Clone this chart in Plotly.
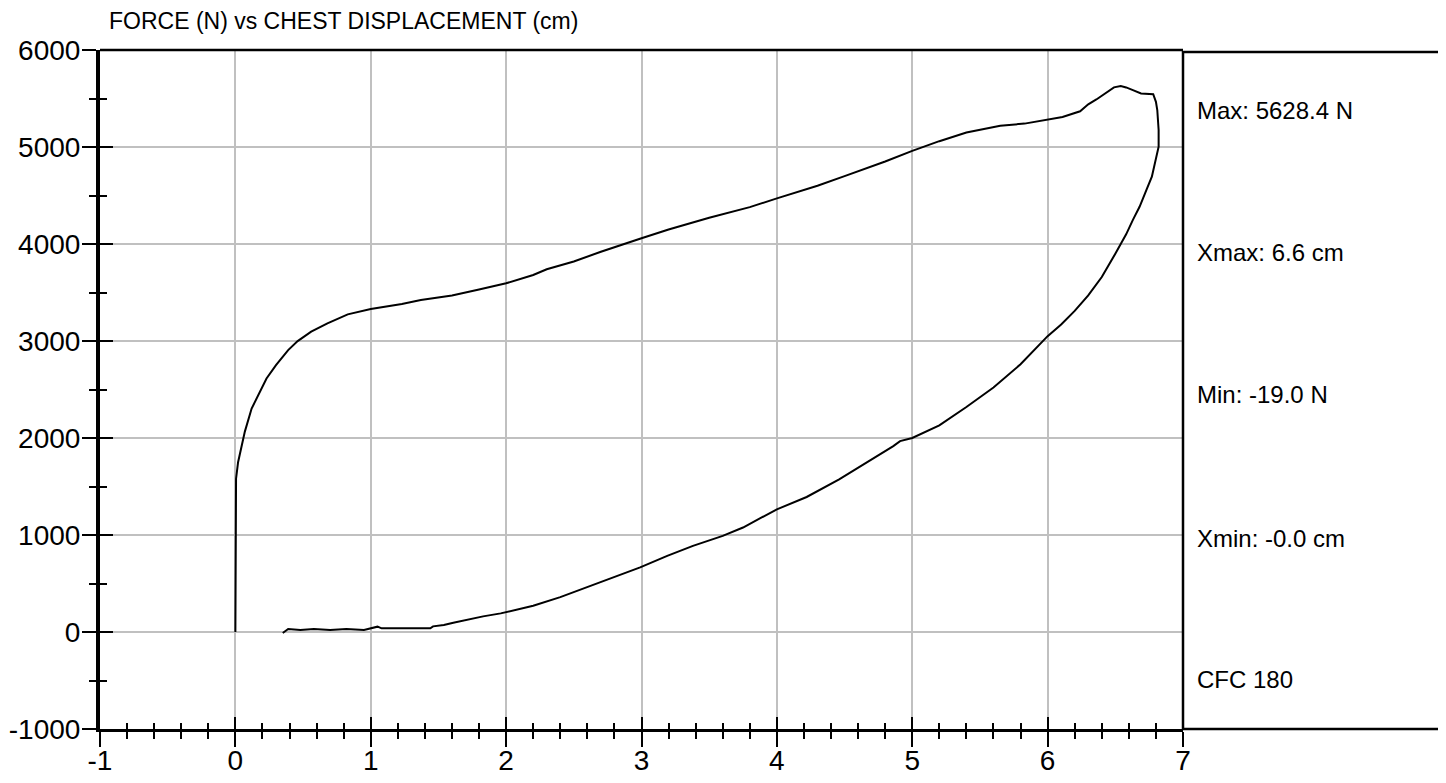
import plotly.graph_objects as go

# chest displacement (cm) and force (N)
x_cm = [0.00, 0.00, 0.00, 0.005, 0.02, 0.04, 0.07, 0.12, 0.18, 0.23, 0.30, 0.39, 0.46,
        0.56, 0.68, 0.83, 1.00, 1.23, 1.37, 1.60, 1.80, 2.00, 2.20, 2.30, 2.50, 2.70,
        3.00, 3.20, 3.50, 3.80, 4.00, 4.30, 4.50, 4.80, 5.00, 5.20, 5.40, 5.65, 5.83,
        5.99, 6.11, 6.24, 6.30, 6.36, 6.43, 6.49, 6.54, 6.58, 6.63, 6.69, 6.78, 6.80,
        6.81, 6.82, 6.82, 6.80, 6.77, 6.73, 6.68, 6.63, 6.58, 6.50, 6.40, 6.30, 6.20,
        6.10, 6.00, 5.80, 5.60, 5.40, 5.20, 5.00, 4.91, 4.86, 4.66, 4.46, 4.22, 4.00,
        3.75, 3.60, 3.38, 3.19, 2.99, 2.69, 2.40, 2.20, 1.96, 1.83, 1.73, 1.61, 1.54,
        1.46, 1.44, 1.08, 1.05, 0.95, 0.82, 0.70, 0.58, 0.48, 0.39, 0.35]
force_n = [0, 600, 1200, 1580, 1750, 1873, 2066, 2304, 2476, 2614, 2751, 2906, 2999,
           3096, 3182, 3275, 3330, 3382, 3423, 3468, 3530, 3595, 3680, 3740, 3820, 3920,
           4060, 4150, 4270, 4380, 4470, 4600, 4700, 4850, 4960, 5060, 5150, 5220, 5241,
           5282, 5310, 5368, 5440, 5490, 5558, 5615, 5628, 5614, 5586, 5552, 5545, 5466,
           5381, 5175, 5003, 4866, 4694, 4558, 4386, 4249, 4100, 3900, 3660, 3470, 3310,
           3170, 3050, 2760, 2520, 2320, 2130, 2000, 1968, 1917, 1746, 1574, 1392, 1265,
           1077, 991, 888, 785, 666, 511, 360, 270, 192, 161, 134, 96, 72,
           58, 38, 38, 55, 20, 31, 20, 31, 20, 31, -10]

x_tickvals = [-1, 0, 1, 2, 3, 4, 5, 6, 7]
x_ticktext = ['-1', '0', '1', '2', '3', '4', '5', '6', '7']
y_tickvals = [-1000, 0, 1000, 2000, 3000, 4000, 5000, 6000]
y_ticktext = ['-1000', '0', '1000', '2000', '3000', '4000', '5000', '6000']

stats = ['Max: 5628.4 N', 'Xmax: 6.6 cm', 'Min: -19.0 N', 'Xmin: -0.0 cm', 'CFC 180']
stats_ypx = [110, 252, 394, 538, 679]

# page body adds an 8px margin, so the figure is a little smaller than the window
W, H = 1438, 775
L, R, T, B = 92, 263, 42, 54
pw, ph = W - L - R, H - T - B
PX0, PY1 = 100, 729   # plot-area left / bottom in window pixels


def px_x(px):
    return (px - PX0) / pw


def px_y(py):
    return (PY1 - py) / ph


tick_font = dict(family='Liberation Sans, Arial, sans-serif', size=28, color='black')
text_font = dict(family='Liberation Sans, Arial, sans-serif', size=24, color='black')

fig = go.Figure()
fig.add_trace(go.Scatter(x=x_cm, y=force_n, mode='lines',
                         line=dict(color='black', width=2), showlegend=False))
# empty trace so the overlay axes (inner tick halves) get drawn
fig.add_trace(go.Scatter(x=[None], y=[None], xaxis='x2', yaxis='y2', mode='lines',
                         showlegend=False, hoverinfo='skip'))

fig.update_layout(
    width=W, height=H,
    margin=dict(l=L, r=R, t=T, b=B),
    paper_bgcolor='white', plot_bgcolor='white',
    xaxis=dict(range=[-1, 7], tickvals=x_tickvals, ticktext=x_ticktext, automargin=False,
               showgrid=True, gridcolor='#c0c0c0', gridwidth=2, zeroline=False,
               showline=True, linecolor='black', linewidth=2.5, ticks='outside',
               ticklen=15, tickwidth=2, tickcolor='black', tickfont=tick_font,
               ticklabelstandoff=-10,
               minor=dict(dtick=0.2, tick0=0, ticks='outside', ticklen=7, tickwidth=2,
                          tickcolor='black', showgrid=False)),
    yaxis=dict(range=[-1000, 6000], tickvals=y_tickvals, ticktext=y_ticktext,
               automargin=False, showgrid=True, gridcolor='#c0c0c0', gridwidth=2,
               zeroline=False, showline=True, linecolor='black', linewidth=4,
               ticks='outside', ticklen=14, tickwidth=2, tickcolor='black',
               tickfont=tick_font, ticklabelstandoff=-4,
               minor=dict(dtick=500, tick0=0, ticks='outside', ticklen=7, tickwidth=2,
                          tickcolor='black', showgrid=False)),
    xaxis2=dict(range=[-1, 7], dtick=1, tick0=0, overlaying='x', anchor='y2',
                side='bottom', automargin=False, showgrid=False, zeroline=False,
                showline=False, showticklabels=False, ticks='inside', ticklen=12,
                tickwidth=2, tickcolor='black',
                minor=dict(dtick=0.2, tick0=0, ticks='inside', ticklen=6, tickwidth=2,
                           tickcolor='black', showgrid=False)),
    yaxis2=dict(range=[-1000, 6000], dtick=1000, overlaying='y', anchor='x2', side='left',
                automargin=False, showgrid=False, zeroline=False, showline=False,
                showticklabels=False, ticks='inside', ticklen=13, tickwidth=2,
                tickcolor='black',
                minor=dict(dtick=500, tick0=0, ticks='inside', ticklen=7, tickwidth=2,
                           tickcolor='black', showgrid=False)),
)

# frame: top edge and stats box on the right
fig.add_shape(type='line', xref='paper', yref='paper', x0=0, x1=1, y0=1, y1=1,
              line=dict(color='black', width=2.5))
fig.add_shape(type='rect', xref='paper', yref='paper', x0=1, x1=px_x(1441),
              y0=0, y1=px_y(52), line=dict(color='black', width=2.5))

fig.add_annotation(text='FORCE (N) vs CHEST DISPLACEMENT (cm)', xref='paper', yref='paper',
                   x=px_x(107), y=px_y(21), xanchor='left', yanchor='middle',
                   showarrow=False, font=dict(text_font, size=23))

for txt, ypx in zip(stats, stats_ypx):
    fig.add_annotation(text=txt, xref='paper', yref='paper', x=px_x(1195),
                       y=px_y(ypx), xanchor='left', yanchor='middle',
                       showarrow=False, font=text_font)

fig.write_html("out.html")
